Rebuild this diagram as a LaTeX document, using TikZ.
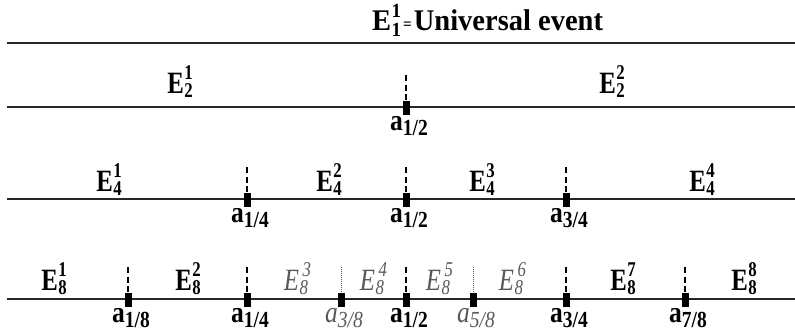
\documentclass[tikz,border=0pt]{standalone}
\usepackage{fontspec}
\setmainfont{Liberation Serif}
\newfontfamily\labfont[FakeStretch=0.8]{Liberation Serif}
\newfontfamily\afont[FakeStretch=0.85]{Liberation Serif}
\newfontfamily\tfont[FakeStretch=0.95]{Liberation Serif}
\definecolor{lgray}{gray}{0.35}
\newcommand\EB[2]{{\labfont\bfseries\fontsize{31}{31}\selectfont E\kern0.5pt\rlap{\raisebox{14pt}{\fontsize{21}{21}\selectfont #1}}\raisebox{-4pt}{\fontsize{21}{21}\selectfont #2}}}
\newcommand\EI[2]{{\labfont\itshape\fontsize{31}{31}\selectfont E\kern0.5pt\rlap{\kern3pt\raisebox{14pt}{\fontsize{21}{21}\selectfont #1}}\raisebox{-4pt}{\fontsize{21}{21}\selectfont #2}}}
\newcommand\AB[1]{{\afont\bfseries\fontsize{30}{30}\selectfont a\raisebox{-5pt}{\fontsize{23}{23}\selectfont #1}}}
\newcommand\AI[1]{{\afont\itshape\fontsize{30}{30}\selectfont a\raisebox{-5pt}{\fontsize{23}{23}\selectfont #1}}}
\begin{document}
\begin{tikzpicture}[x=1pt,y=-1pt,
  hline/.style={line width=1.6pt,draw=black!85},
  marker/.style={rectangle,fill=black,minimum width=7pt,minimum height=14pt,inner sep=0pt},
  guide/.style={line width=1.4pt,dash pattern=on 6pt off 3.5pt},
  dotguide/.style={line width=0.7pt,draw=lgray,dash pattern=on 1pt off 1pt},
  lab/.style={inner sep=0pt,anchor=base},
  glab/.style={inner sep=0pt,anchor=base,text=lgray}]
\useasboundingbox (0,0) rectangle (795,333);
% title
\node[inner sep=0pt,anchor=base west] (title) at (372,30)
 {\tfont\bfseries\fontsize{30}{30}\selectfont E\kern0.5pt\rlap{\raisebox{13pt}{\fontsize{20}{20}\selectfont 1}}\raisebox{-6pt}{\fontsize{20}{20}\selectfont 1}\kern2pt\raisebox{1pt}{\fontsize{16}{16}\selectfont =}\kern2pt Universal event};
% horizontal lines
\foreach \n/\y/\x in {1/43/7,2/107/7,3/199/7,4/299/7}{
  \coordinate (L\n a) at (\x,\y);
  \coordinate (L\n b) at (795,\y);
  \draw[hline] (L\n a) -- (L\n b);
}
% row 2
\node[lab] (e21) at (180,93) {\EB{1}{2}};
\node[lab] (e22) at (612,93) {\EB{2}{2}};
% row 3
\node[lab] (e41) at (109,191) {\EB{1}{4}};
\node[lab] (e42) at (329,191) {\EB{2}{4}};
\node[lab] (e43) at (482,191) {\EB{3}{4}};
\node[lab] (e44) at (702,191) {\EB{4}{4}};
% row 4
\node[lab] (e81) at (54,290) {\EB{1}{8}};
\node[lab] (e82) at (188,290) {\EB{2}{8}};
\node[glab] (e83) at (296,290) {\EI{3}{8}};
\node[glab] (e84) at (372,290) {\EI{4}{8}};
\node[glab] (e85) at (438,290) {\EI{5}{8}};
\node[glab] (e86) at (511,290) {\EI{6}{8}};
\node[lab] (e87) at (623,290) {\EB{7}{8}};
\node[lab] (e88) at (744,290) {\EB{8}{8}};
% markers (bold, dashed)
\foreach \nm/\x/\y/\t in {r2h/406/107/{1/2},
  r3q/247/199/{1/4}, r3h/406/199/{1/2}, r3t/566/199/{3/4},
  r4a/128/299/{1/8}, r4b/247/299/{1/4}, r4d/406/299/{1/2}, r4f/566/299/{3/4}, r4g/685/299/{7/8}}{
  \node[marker] (\nm) at (\x,\y+1) {};
  \coordinate (\nm top) at (\x,\y-32);
  \draw[guide] (\nm top) -- (\nm.north);
  \node[lab] (\nm lab) at (\x+3,\y+23) {\AB{\t}};
}
% markers (gray, dotted)
\foreach \nm/\x/\y/\t in {r4c/341/299/{3/8}, r4e/473/299/{5/8}}{
  \node[marker] (\nm) at (\x,\y+1) {};
  \coordinate (\nm top) at (\x,\y-32);
  \draw[dotguide] (\nm top) -- (\nm.north);
  \node[glab] (\nm lab) at (\x+3,\y+23) {\AI{\t}};
}
\end{tikzpicture}
\end{document}
